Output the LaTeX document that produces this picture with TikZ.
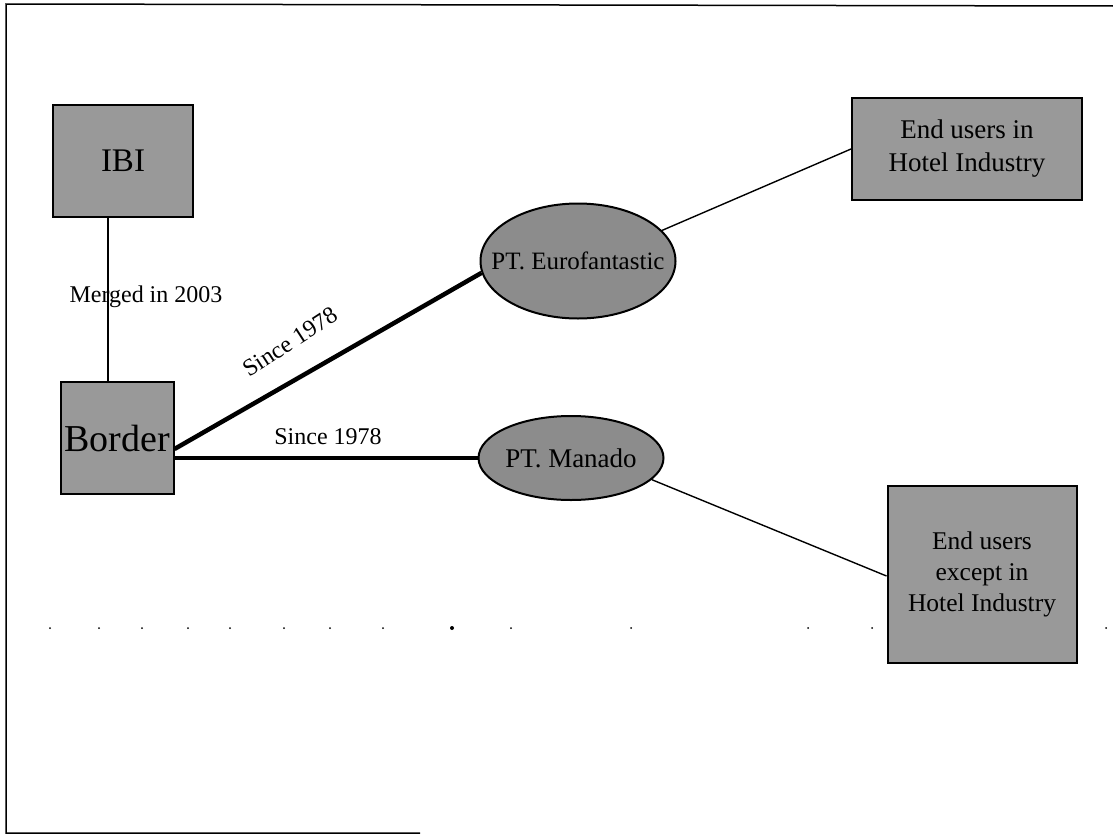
\documentclass[tikz,border=0pt]{standalone}
\usepackage{fontspec}
\setmainfont{Liberation Serif}
\usetikzlibrary{shapes.geometric}
\begin{document}
\begin{tikzpicture}[x=1pt,y=-1pt,
  boxnode/.style={draw=black,line width=2pt,fill=black!40,inner sep=0pt,align=center},
  ovalnode/.style={ellipse,draw=black,line width=2pt,fill=black!45,inner sep=0pt},
  ovaltext/.style={inner sep=0pt,align=center},
  thinlink/.style={line width=1.4pt},
  thicklink/.style={line width=4.5pt},
  lbl/.style={font=\fontsize{24}{26}\selectfont,inner sep=1pt},
  dotmark/.style={circle,fill=black,inner sep=0pt,minimum size=2pt}]
\useasboundingbox (0,0) rectangle (1113,835);
% frame
\draw[line width=1.5pt] (1113,6) -- (6,4) -- (6,833) -- (420,833);
% dots
\foreach \dx [count=\i] in {50,99,142,188,230,284,330,383,511,631,808,872,1106}
  \node[dotmark] (d\i) at (\dx,628) {};
\node[dotmark,minimum size=4pt] (dbig) at (452,628) {};
% nodes
\node[boxnode,minimum width=140,minimum height=112,font=\fontsize{33}{36}\selectfont] (IBI) at (123,161) {IBI};
\node[boxnode,minimum width=113,minimum height=112,font=\fontsize{38}{40}\selectfont] (B) at (117,438) {Border};
\node[ovalnode,minimum width=195,minimum height=115] (E) at (578,261) {};
\node[ovaltext,font=\fontsize{25}{27}\selectfont] (Et) at (E.center) {PT. Eurofantastic};
\node[ovalnode,minimum width=185,minimum height=84] (M) at (571,458) {};
\node[ovaltext,font=\fontsize{27}{29}\selectfont] (Mt) at (M.center) {PT. Manado};
\node[boxnode,minimum width=230,minimum height=102,font=\fontsize{27}{33}\selectfont] (H) at (967,149) {End users in\\Hotel Industry};
\node[boxnode,minimum width=189,minimum height=177,font=\fontsize{25.5}{31}\selectfont] (X) at (982,574) {End users\\except in\\Hotel Industry};
% connectors
\draw[thinlink] (IBI.south -| 108,0) -- (B.north -| 108,0);
\node[lbl] (mlab) at (146,297) {Merged in 2003};
\draw[thicklink] ([yshift=-11pt]B.east) -- (E.187);
\node[lbl,rotate=33] (s1) at (290,342) {Since 1978};
\draw[thicklink] ([yshift=-20pt]B.east) -- (M.west);
\node[lbl] (s2) at (328,437) {Since 1978};
\draw[thinlink] (E.20) -- (H.west);
\draw[thinlink] (M.-15) -- ([yshift=-2pt]X.west);
\end{tikzpicture}
\end{document}
